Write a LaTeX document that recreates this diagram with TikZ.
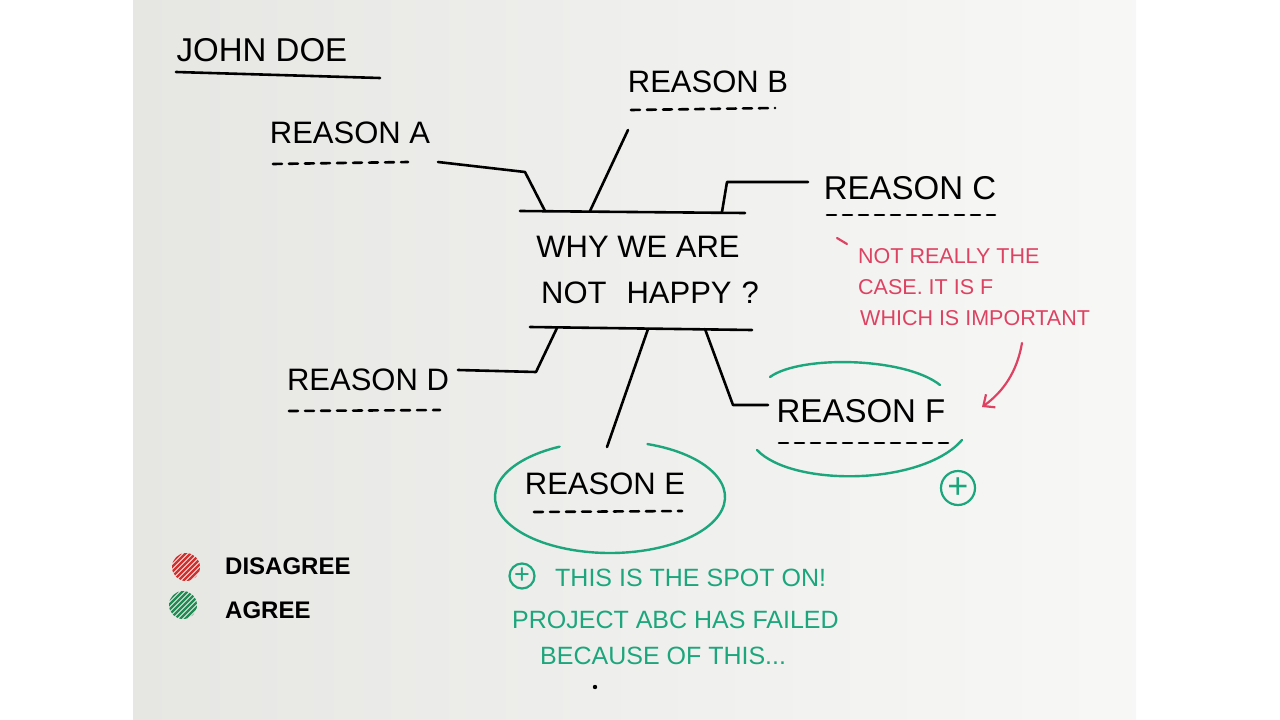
\documentclass[tikz,border=0pt]{standalone}
\usepackage{fontspec}
\setmainfont{Liberation Sans}
\usetikzlibrary{arrows.meta}
\definecolor{boardgrey}{RGB}{230,230,227}
\definecolor{notered}{RGB}{222,66,98}
\definecolor{notegreen}{RGB}{28,166,124}
\definecolor{legendred}{RGB}{214,46,44}
\definecolor{legendgreen}{RGB}{32,140,84}

\begin{document}
\begin{tikzpicture}[x=1pt,y=-1pt]
\tikzset{
  pen/.style={line width=2.6pt,line cap=round,line join=round},
  dashline/.style={pen,dash pattern=on 9pt off 7pt},
  greenpen/.style={pen,draw=notegreen,line width=2.4pt},
  redpen/.style={pen,draw=notered,line width=2.2pt},
  reason/.style={inner sep=0pt,font=\fontsize{31}{31}\selectfont},
  bigreason/.style={inner sep=0pt,font=\fontsize{33}{33}\selectfont},
  redtext/.style={inner sep=0pt,anchor=west,text=notered,font=\fontsize{21.5}{21.5}\selectfont},
  greentext/.style={inner sep=0pt,anchor=west,text=notegreen,font=\fontsize{25}{25}\selectfont},
  legendtext/.style={inner sep=0pt,anchor=west,font=\bfseries\fontsize{24}{24}\selectfont},
  plusmark/.style={circle,draw=notegreen,line width=2.2pt,text=notegreen,inner sep=0pt}
}
\useasboundingbox (0,0) rectangle (1280,720);
% whiteboard
\shade[left color=boardgrey,right color=boardgrey!30!white] (133,0) rectangle (1136,720);

% title
\node[inner sep=0pt,font=\fontsize{33}{33}\selectfont] (john) at (262,50) {JOHN DOE};
\draw[pen] (176,72) -- (380,78);

% the question
\node[reason] (why1) at (638,247) {WHY WE ARE};
\node[reason] (why2) at (650,293) {NOT\hspace{20pt}HAPPY\hspace{10pt}?};
\coordinate (topL) at (520,211);
\coordinate (topR) at (745,213);
\coordinate (botL) at (530,327);
\coordinate (botR) at (752,330);
\draw[pen] (topL) -- (topR);
\draw[pen] (botL) -- (botR);

% reasons
\node[reason] (rA) at (350,133) {REASON A};
\node[reason] (rB) at (708,82) {REASON B};
\node[bigreason] (rC) at (910,188) {REASON C};
\node[reason] (rD) at (368,380) {REASON D};
\node[reason] (rE) at (605,484) {REASON E};
\node[bigreason] (rF) at (861,411) {REASON F};
\draw[dashline] (273,164) -- (408,162);
\draw[dashline] (631,110) -- (775,108);
\draw[dashline] (827,215) -- (995,215);
\draw[dashline] (289,411) -- (440,410);
\draw[dashline] (534,512) -- (682,511);
\draw[dashline] (779,443) -- (950,443);

% connectors
\coordinate (aA) at (438,162);
\coordinate (jA) at (545,211);
\coordinate (aB) at (628,130);
\coordinate (jB) at (590,211);
\coordinate (aC) at (808,182);
\coordinate (jC) at (722,212);
\coordinate (aD) at (458,370);
\coordinate (jD) at (557,328);
\coordinate (aE) at (607,447);
\coordinate (jE) at (648,329);
\coordinate (aF) at (768,405);
\coordinate (jF) at (705,329);
\draw[pen] (aA) -- (525,172) -- (jA);
\draw[pen] (aB) -- (jB);
\draw[pen] (aC) -- (727,182) -- (jC);
\draw[pen] (aD) -- (536,372) -- (jD);
\draw[pen] (aE) -- (jE);
\draw[pen] (aF) -- (733,405) -- (jF);

% agree marks
\draw[greenpen] (610,497) ++(289:115 and 56) arc[start angle=289,end angle=604,x radius=115,y radius=56];
\draw[greenpen] (770,377) .. controls (800,355) and (905,357) .. (940,385);
\draw[greenpen] (757,450) .. controls (792,487) and (922,486) .. (962,440);
\node[plusmark,minimum size=34pt,font=\fontsize{36}{36}\selectfont] (okF) at (958,488) {+};

% red remark on C
\draw[redpen] (837,238) -- (847,244);
\node[redtext] (noteC1) at (858,256) {NOT REALLY THE};
\node[redtext] (noteC2) at (858,287) {CASE. IT IS F};
\node[redtext] (noteC3) at (860,318) {WHICH IS IMPORTANT};
\coordinate (arrS) at (1022,343);
\coordinate (arrE) at (982,407);
\draw[redpen,-{Straight Barb[length=9pt,width=16pt]}] (arrS) .. controls (1017,372) and (1003,392) .. (arrE);

% green remark on E
\node[plusmark,minimum size=25pt,font=\fontsize{27}{27}\selectfont] (okE) at (522,576) {+};
\node[greentext] (noteE1) at (555,578) {THIS IS THE SPOT ON!};
\node[greentext] (noteE2) at (512,620) {PROJECT ABC HAS FAILED};
\node[greentext] (noteE3) at (540,656) {BECAUSE OF THIS...};
\fill (595,687) circle (2.2);

% legend
\begin{scope}
\clip (186,567) circle (14);
\foreach \k in {-24,-19,...,24}
  \draw[line width=2.4pt,legendred] (171+\k,582) -- ++(30,-30);
\end{scope}
\begin{scope}
\clip (183,605) circle (14);
\foreach \k in {-24,-19,...,24}
  \draw[line width=2.4pt,legendgreen] (168+\k,620) -- ++(30,-30);
\end{scope}
\node[legendtext] (lgRed) at (225,566) {DISAGREE};
\node[legendtext] (lgGreen) at (225,610) {AGREE};
\end{tikzpicture}
\end{document}
